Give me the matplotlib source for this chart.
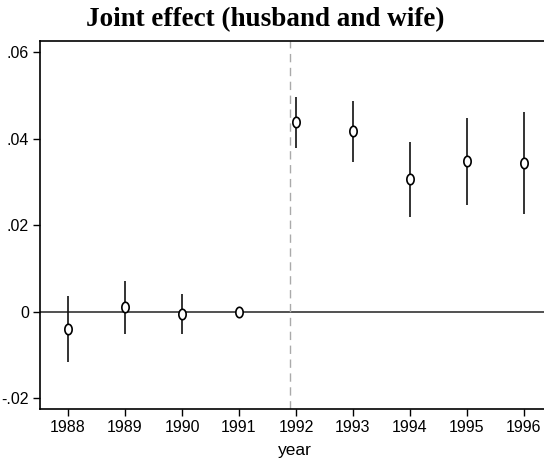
import matplotlib

matplotlib.use("Agg")
import matplotlib.pyplot as plt
import numpy as np
from matplotlib.path import Path

years = [1988, 1989, 1990, 1991, 1992, 1993, 1994, 1995, 1996]
coef = [-0.0041, 0.0010, -0.0005, 0.0, 0.0438, 0.0418, 0.0307, 0.0348, 0.0344]
ci_lo = [-0.0117, -0.0052, -0.0052, 0.0, 0.0378, 0.0346, 0.0220, 0.0247, 0.0227]
ci_hi = [0.0037, 0.0072, 0.0040, 0.0, 0.0497, 0.0487, 0.0392, 0.0447, 0.0461]
yticks = [-0.02, 0, 0.02, 0.04, 0.06]
ytick_labels = ["-.02", "0", ".02", ".04", ".06"]
reform_year = 1991.9

# tall hollow ellipse, like Stata's "Oh" marker
t = np.linspace(0, 2 * np.pi, 60)
oh = Path(np.column_stack([0.7 * np.cos(t), np.sin(t)]), closed=True)

fig = plt.figure(figsize=(5.44, 4.66), dpi=100)
ax = fig.add_axes([40 / 544, 1 - 409 / 466, 1 - 40 / 544 + 0.01, (409 - 41) / 466])

ax.axhline(0, color="#222222", lw=1.1, zorder=1)
ax.axvline(reform_year, color="#aaaaaa", lw=1.0, ls=(0, (6, 4)), zorder=1)

ax.vlines(years, ci_lo, ci_hi, color="#111111", lw=1.2, zorder=2)
ax.plot(years, coef, ls="none", marker=oh, ms=7.5, mfc="white", mec="black",
        mew=1.2, zorder=3)

ax.set_xlim(1987.507, 1996.45)
ax.set_ylim(-0.0225, 0.0626)
ax.set_xticks(years)
ax.set_xticklabels([str(y) for y in years])
ax.set_yticks(yticks)
ax.set_yticklabels(ytick_labels)

tick_family = ["Liberation Sans", "DejaVu Sans"]
for lab in ax.get_xticklabels() + ax.get_yticklabels():
    lab.set_fontfamily(tick_family)
    lab.set_fontsize(11.5)
ax.tick_params(direction="out", length=5, width=1, pad=3)

for side in ["left", "bottom", "top"]:
    ax.spines[side].set_linewidth(1.2)
ax.spines["right"].set_visible(False)

ax.set_xlabel("year", fontfamily=tick_family, fontsize=12.5, labelpad=6)
fig.text(0.487, 0.945, "Joint effect (husband and wife)", ha="center", va="baseline",
         fontfamily=["Liberation Serif", "DejaVu Serif"], fontweight="bold",
         fontsize=19.5)

fig.savefig("out.png", dpi=100)
